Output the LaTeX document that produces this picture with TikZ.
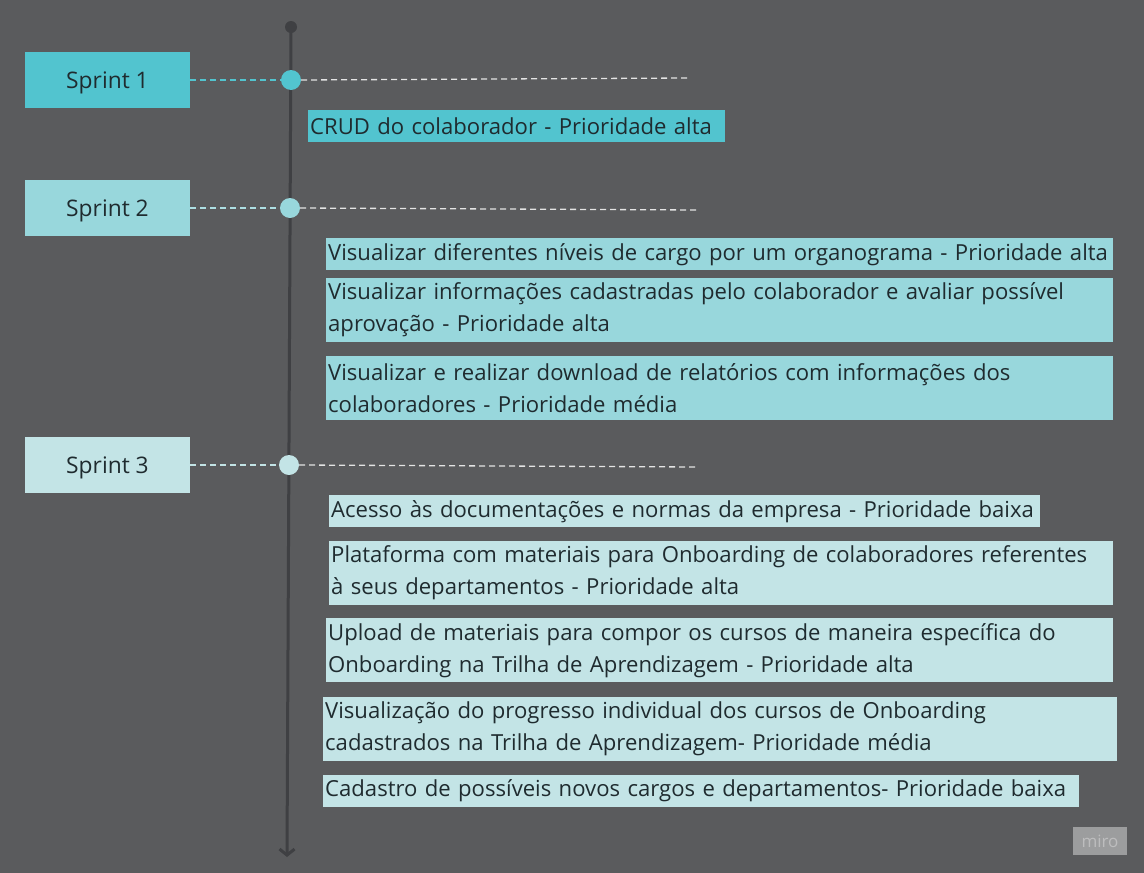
\documentclass[tikz,border=0pt]{standalone}
\usepackage{fontspec}
\setmainfont{Open Sans}
\usetikzlibrary{positioning,arrows.meta}

\definecolor{board}{HTML}{5A5B5D}
\definecolor{axisgrey}{HTML}{3F4043}
\definecolor{ink}{HTML}{1F2B2F}
\definecolor{sOne}{HTML}{52C4CF}
\definecolor{sTwo}{HTML}{98D7DC}
\definecolor{sThree}{HTML}{C3E4E6}
\definecolor{trailc}{HTML}{E4E4E4}

\begin{document}
\begin{tikzpicture}[
		x=1pt, y=-1pt,
		sprint/.style={minimum width=165pt, minimum height=56pt, inner sep=0pt,
			text height=16.3pt, text depth=0pt,
			text=ink, font=\fontsize{22.8}{26}\selectfont},
		task/.style={anchor=north west, inner xsep=2pt, inner ysep=0pt,
			align=left, text=ink, font=\fontsize{22.1}{32}\selectfont},
		dot/.style={circle, minimum size=20pt, inner sep=0pt},
		link/.style={dashed, dash pattern=on 6pt off 4pt, line width=1.3pt},
		trail/.style={link, trailc},
	]
		\fill[board] (0,0) rectangle (1144,873);
		\useasboundingbox (0,0) rectangle (1144,873);

		% timeline
		\coordinate (top) at (291,27);
		\coordinate (bottom) at (287,857);
		\draw[axisgrey, line width=3pt, -{Straight Barb[length=6pt,width=15pt]}] (top) -- (bottom);
		\fill[axisgrey] (top) circle (6);

		% sprints
		\node [sprint, fill=sOne] (sprint1) at (107.5,80) {Sprint 1};
		\node [sprint, fill=sTwo] (sprint2) at (107.5,208) {Sprint 2};
		\node [sprint, fill=sThree] (sprint3) at (107.5,465) {Sprint 3};

		\node [dot, fill=sOne] (d1) at (291,80) {};
		\node [dot, fill=sTwo] (d2) at (290,208) {};
		\node [dot, fill=sThree] (d3) at (289,465) {};
		\coordinate (e1) at (690,78);
		\coordinate (e2) at (700,210);
		\coordinate (e3) at (697,467);

		\draw[link, sOne] (sprint1.east) -- (d1.west);
		\draw[link, sTwo!80!white] (sprint2.east) -- (d2.west);
		\draw[link, sThree] (sprint3.east) -- (d3.west);
		\draw[trail] (d1.east) -- (e1);
		\draw[trail] (d2.east) -- (e2);
		\draw[trail] (d3.east) -- (e3);

		% sprint 1
		\node [task, fill=sOne, text width=413pt, minimum height=32pt] (crud) at (308,110)
			{\mbox{CRUD do colaborador - Prioridade alta}};

		% sprint 2
		\node [task, fill=sTwo, text width=783pt, minimum height=32pt] (cargos) at (326,238)
			{\mbox{Visualizar diferentes níveis de cargo por um organograma - Prioridade alta}};
		\node [task, fill=sTwo, text width=783pt, minimum height=64pt,
			below right=7pt and 0pt of cargos.south west] (aprov)
			{Visualizar informações cadastradas pelo colaborador e avaliar possível\\aprovação - Prioridade alta};
		\node [task, fill=sTwo, text width=783pt, minimum height=64pt,
			below right=14pt and 0pt of aprov.south west] (relat)
			{Visualizar e realizar download de relatórios com informações dos\\colaboradores - Prioridade média};

		% sprint 3
		\node [task, fill=sThree, text width=707pt, minimum height=32pt] (docs) at (329,495)
			{\mbox{Acesso às documentações e normas da empresa - Prioridade baixa}};
		\node [task, fill=sThree, text width=780pt, minimum height=64pt,
			below right=13pt and 0pt of docs.south west] (plataf)
			{Plataforma com materiais para Onboarding de colaboradores referentes\\à seus departamentos - Prioridade alta};
		\node [task, fill=sThree, text width=783pt, minimum height=64pt] (upload) at (326,618)
			{Upload de materiais para compor os cursos de maneira específica do\\Onboarding na Trilha de Aprendizagem - Prioridade alta};
		\node [task, fill=sThree, text width=790pt, minimum height=64pt] (progr) at (323,697)
			{Visualização do progresso individual dos cursos de Onboarding\\cadastrados na Trilha de Aprendizagem- Prioridade média};
		\node [task, fill=sThree, text width=752pt, minimum height=32pt,
			below right=13pt and 0pt of progr.south west] (novos)
			{\mbox{Cadastro de possíveis novos cargos e departamentos- Prioridade baixa}};

		\node [fill=white!40!board, minimum width=54pt, minimum height=28pt, inner sep=0pt,
			text=white!60!board, font=\fontsize{17}{17}\selectfont] (miro) at (1100,841) {miro};
	\end{tikzpicture}
\end{document}
